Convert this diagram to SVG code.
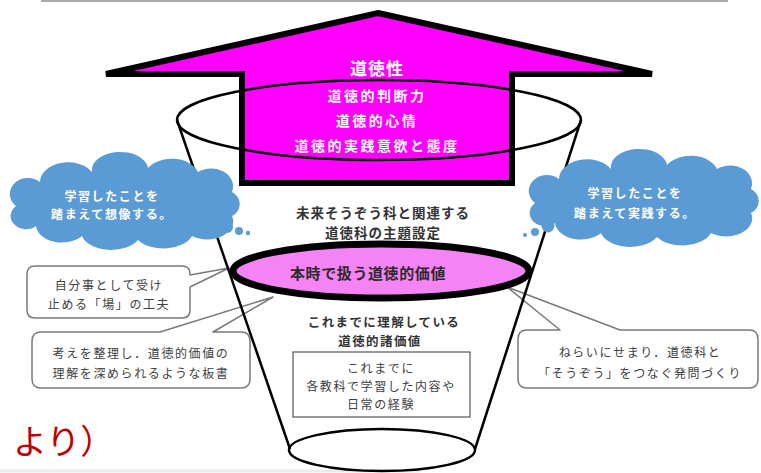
<svg xmlns="http://www.w3.org/2000/svg" width="761" height="473" viewBox="0 0 761 473">
<style>
text{font-family:"Noto Sans CJK JP","Noto Sans",sans-serif;text-anchor:middle;dominant-baseline:central}
.aw{fill:#fff;font-weight:bold}
.mid{fill:#333;font-weight:bold;font-size:12.5px;letter-spacing:1.4px}
.cl{fill:#fff;font-weight:bold;font-size:12px;letter-spacing:1.6px}
.co{fill:#404040;font-size:12px;letter-spacing:1.6px}
.callout{fill:#fff;stroke:#7a7a7a;stroke-width:1.5;stroke-linejoin:round}
.cup{fill:none;stroke:#000;stroke-width:2.5}
.cloud{fill:#5B9BD5}
</style>
<defs>
<path id="cloudShape" d="M 16,206 A 16 14 0 0 1 40,182 A 28 20 0 0 1 92,172 A 28 18 0 0 1 148,168 A 28 20 0 0 1 198,172 A 22 18 0 0 1 232,192 A 16 14 0 0 1 232,216 A 26 18 0 0 1 192,236 A 30 18 0 0 1 138,240 A 30 18 0 0 1 82,236 A 26 18 0 0 1 36,226 A 14 12 0 0 1 16,206 Z"/>
</defs>
<line x1="41" y1="1" x2="728" y2="1" stroke="#aaa" stroke-width="2"/>
<line x1="0" y1="471" x2="420" y2="471" stroke="#ececec" stroke-width="3"/>

<g id="arrow">
<path d="M 378,13 L 652,74 L 512,74 L 512,183 L 242,183 L 242,74 L 106,74 Z" fill="#FF00FF" stroke="#000" stroke-width="6" stroke-linejoin="miter" stroke-miterlimit="3"/>
<text x="377" y="67" class="aw" font-size="17" letter-spacing="1">道徳性</text>
<text x="377" y="95" class="aw" font-size="14" letter-spacing="2.5">道徳的判断力</text>
<text x="377" y="120" class="aw" font-size="14" letter-spacing="2.5">道徳的心情</text>
<text x="377" y="145" class="aw" font-size="14" letter-spacing="2.5">道徳的実践意欲と態度</text>
</g>

<g id="callouts">
<path class="callout" d="M 35,266 H 182 Q 190,266 190,274 V 275 L 229,268 L 190,287 V 310 Q 190,318 182,318 H 35 Q 27,318 27,310 V 274 Q 27,266 35,266 Z"/>
<path class="callout" d="M 41,332 H 160 L 273,297 L 213,332 H 241 Q 250,332 250,341 V 379 Q 250,388 241,388 H 41 Q 32,388 32,379 V 341 Q 32,332 41,332 Z"/>
<path class="callout" d="M 527,330 H 560 L 507,287 L 620,330 H 749 Q 758,330 758,339 V 379 Q 758,388 749,388 H 527 Q 518,388 518,379 V 339 Q 518,330 527,330 Z"/>
</g>

<g id="cup">
<ellipse cx="379" cy="120" rx="202" ry="40" class="cup"/>
<line x1="177" y1="120" x2="290" y2="449" class="cup"/>
<line x1="581" y1="120" x2="475" y2="449" class="cup"/>
<ellipse cx="382" cy="450" rx="93" ry="21" class="cup"/>
</g>

<g id="cloud-left">
<use href="#cloudShape" class="cloud"/>
<circle cx="227" cy="227" r="6" class="cloud"/>
<circle cx="239" cy="231" r="4" class="cloud"/>
<circle cx="248" cy="233" r="2.2" class="cloud"/>
<text x="112" y="195" class="cl">学習したことを</text>
<text x="112" y="213" class="cl">踏まえて想像する。</text>
</g>

<g id="cloud-right">
<use href="#cloudShape" class="cloud" transform="translate(519,-3)"/>
<circle cx="548" cy="226" r="6.5" class="cloud"/>
<circle cx="535" cy="232" r="4" class="cloud"/>
<circle cx="525" cy="235" r="2" class="cloud"/>
<text x="635" y="192" class="cl">学習したことを</text>
<text x="635" y="212" class="cl">踏まえて実践する。</text>
</g>

<g id="theme">
<text x="383" y="212" class="mid" style="font-size:13.5px;letter-spacing:1px">未来そうぞう科と関連する</text>
<text x="383" y="232" class="mid" style="font-size:13.5px;letter-spacing:1px">道徳科の主題設定</text>
</g>

<g id="value-now">
<ellipse cx="381" cy="271" rx="148" ry="27" fill="#F483F4" stroke="#000" stroke-width="7"/>
<text x="368" y="272" fill="#2a2a2a" font-weight="bold" font-size="15" letter-spacing="0.6">本時で扱う道徳的価値</text>
</g>

<g id="values-known">
<text x="384" y="321" class="mid">これまでに理解している</text>
<text x="380" y="340" class="mid">道徳的諸価値</text>
</g>

<g id="experience">
<rect x="293" y="352" width="177" height="65" fill="#fff" stroke="#555" stroke-width="1.2"/>
<text x="381" y="367" class="co">これまでに</text>
<text x="381" y="385" class="co">各教科で学習した内容や</text>
<text x="381" y="403" class="co">日常の経験</text>
</g>

<g id="note-place">
<text x="109" y="284" class="co">自分事として受け</text>
<text x="109" y="303" class="co">止める「場」の工夫</text>
</g>
<g id="note-board">
<text x="141" y="352" class="co">考えを整理し．道徳的価値の</text>
<text x="141" y="372" class="co">理解を深められるような板書</text>
</g>
<g id="note-question">
<text x="640" y="351" class="co">ねらいにせまり．道徳科と</text>
<text x="640" y="372" class="co">「そうぞう」をつなぐ発問づくり</text>
</g>

<text x="13" y="439" fill="#C00000" font-size="34" style="text-anchor:start">より）</text>
</svg>
